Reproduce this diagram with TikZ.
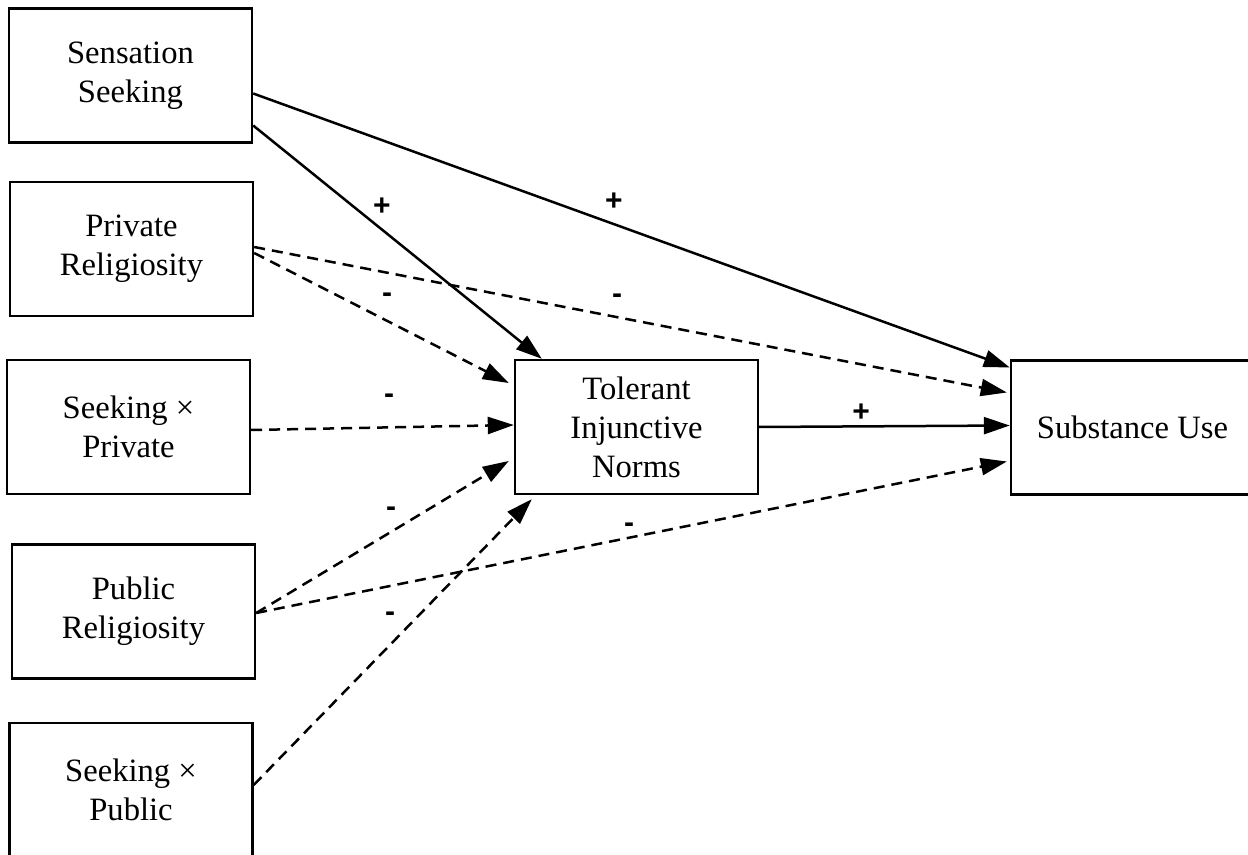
\documentclass[tikz,border=0pt]{standalone}
\usepackage{fontspec}
\setmainfont{Liberation Serif}
\newfontfamily\signfont{Liberation Sans}
\usetikzlibrary{arrows.meta}

\tikzset{
    varbox/.style={draw, line width=1.2pt, minimum width=121.5pt, minimum height=67pt,
        inner sep=0pt, align=center, font=\fontsize{16.3}{19.5}\selectfont},
    path/.style={line width=1.25pt, -{Triangle[length=13pt, width=8.5pt]}},
    nonsig/.style={path, dash pattern=on 5.5pt off 3.5pt},
    sign/.style={font=\signfont\bfseries\fontsize{15}{15}\selectfont, inner sep=0pt}
}

\begin{document}
\begin{tikzpicture}[x=0.5pt, y=-0.5pt]
        \clip (0, 0) rectangle (1248, 855);
        \fill [white] (0, 0) rectangle (1248, 855);
        % predictors
        \node [varbox] (sens) at (130.5, 75.5) {Sensation\\Seeking};
        \node [varbox] (priv) at (131.5, 249) {Private\\Religiosity};
        \node [varbox] (sxpriv) at (128.5, 427) {Seeking ×\\Private};
        \node [varbox] (pub) at (133.5, 611.5) {Public\\Religiosity};
        \node [varbox] (sxpub) at (131, 790) {Seeking ×\\Public};
        % mediator and outcome
        \node [varbox] (tol) at (636.5, 427) {Tolerant\\Injunctive\\Norms};
        \node [varbox] (sub) at (1132.5, 427.5) {Substance Use};
        % paths
        \draw [path] ([shift={(0,18)}]sens.east) -- ([shift={(0,-60)}]sub.west);
        \draw [path] ([shift={(0,50)}]sens.east) -- ([shift={(28,0)}]tol.north west);
        \draw [nonsig] ([shift={(0,-2)}]priv.east) -- ([shift={(-3,-35)}]sub.west);
        \draw [nonsig] ([shift={(0,4)}]priv.east) -- ([shift={(-5,-44)}]tol.west);
        \draw [nonsig] ([shift={(0,3)}]sxpriv.east) -- ([shift={(0,-2)}]tol.west);
        \draw [nonsig] ([shift={(0,1.5)}]pub.east) -- ([shift={(-5,34)}]tol.west);
        \draw [nonsig] ([shift={(0,1.5)}]pub.east) -- ([shift={(-3,34)}]sub.west);
        \draw [nonsig] ([shift={(0,-5)}]sxpub.east) -- ([shift={(18,4)}]tol.south west);
        \draw [path] (tol.east) -- ([shift={(0,-2)}]sub.west);
        % signs
        \node [sign] at (382, 207) {+};
        \node [sign] at (614, 202) {+};
        \node [sign] at (387, 298) {-};
        \node [sign] at (617, 299) {-};
        \node [sign] at (389, 399) {-};
        \node [sign] at (861, 413) {+};
        \node [sign] at (391, 512) {-};
        \node [sign] at (629, 528) {-};
        \node [sign] at (390, 617) {-};
    \end{tikzpicture}
\end{document}
